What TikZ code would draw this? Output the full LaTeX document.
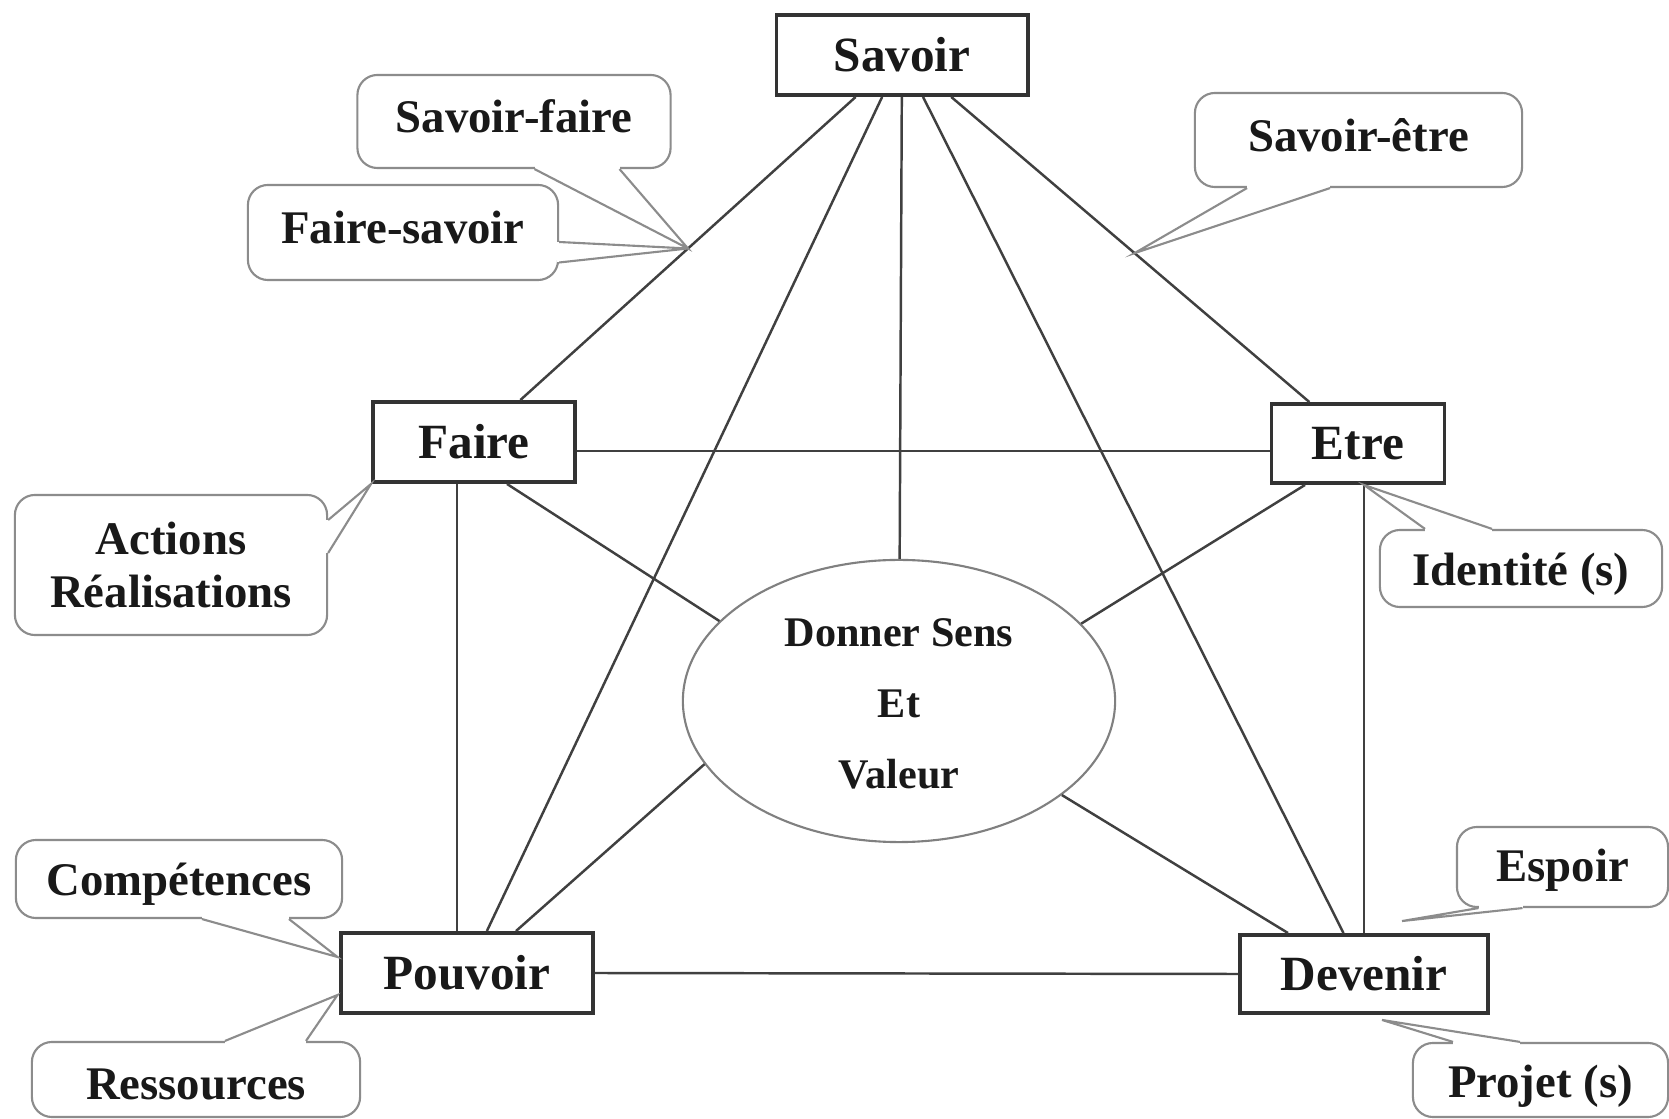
\documentclass[tikz,border=0pt]{standalone}
\usepackage{fontspec}
\setmainfont{Liberation Serif}
\usetikzlibrary{calc,shapes.geometric}
\tikzset{
  pole/.style={draw=black!80, line width=1.1pt, inner sep=0pt, text=black!90,
    font=\fontsize{14}{16}\selectfont\bfseries},
  bulle/.style={draw=black!45, line width=0.6pt, rounded corners=0.2cm, inner sep=0pt,
    align=center, text=black!90, font=\fontsize{13.3}{15.2}\selectfont\bfseries},
  lien/.style={draw=black!75, line width=0.7pt},
  queue/.style={draw=black!45, line width=0.6pt}
}
\newcommand{\queuebulle}[3]{%
  \draw[white, line width=1.5pt] (#1) -- (#2);
  \draw[queue] (#1) -- (#3) -- (#2);
}
\newcommand{\decale}[2]{\raisebox{#1}[\height][\depth]{#2}}
\begin{document}
\begin{tikzpicture}[x=0.01cm, y=-0.01cm]
  \useasboundingbox[fill=white] (0,0) rectangle (1669,1119);
  \node[pole, minimum width=2.51cm, minimum height=0.80cm] (savoir) at (902,55) {Savoir};
  \node[pole, minimum width=2.02cm, minimum height=0.80cm] (faire) at (474,442) {Faire};
  \node[pole, minimum width=1.73cm, minimum height=0.79cm] (etre) at (1358,443.5) {Etre};
  \node[pole, minimum width=2.51cm, minimum height=0.80cm] (pouvoir) at (467,973) {Pouvoir};
  \node[pole, minimum width=2.48cm, minimum height=0.78cm] (devenir) at (1364,974) {Devenir};
  \node[ellipse, draw=black!50, line width=0.6pt, minimum width=4.32cm, minimum height=2.82cm] (sens) at (899,701) {};
  \node[align=center, text=black!90, font=\fontsize{12}{20.2}\selectfont\bfseries] (sensTexte) at (899,704) {Donner Sens\\Et\\Valeur};

  \draw[lien] (savoir) -- (faire);
  \draw[lien] (savoir) -- (pouvoir);
  \draw[lien] (savoir) -- (sens);
  \draw[lien] (savoir) -- (devenir);
  \draw[lien] (savoir) -- (etre);
  \coordinate (fe) at ($(faire.east)+(0,9)$);
  \draw[lien] (fe) -- (fe -| etre.west);
  \draw[lien] (pouvoir.east) -- (devenir.west);
  \coordinate (fp) at ($(faire.south)+(-17,0)$);
  \draw[lien] (fp) -- (fp |- pouvoir.north);
  \draw[lien] (devenir.north |- etre.south) -- (devenir.north);
  \draw[lien] ($(faire.south)+(33,0)$) -- (sens.156);
  \draw[lien] ($(etre.south)+(-53,0)$) -- (sens.23);
  \draw[lien] ($(pouvoir.north)+(49,0)$) -- (sens.198);
  \draw[lien] ($(devenir.north)+(-76,0)$) -- (sens.330);

  \node[bulle, minimum width=3.13cm, minimum height=0.93cm] (sfaire) at (514,121.5) {\decale{0.05cm}{Savoir-faire}};
  \node[bulle, minimum width=3.10cm, minimum height=0.95cm] (fsavoir) at (403,232.5) {\decale{0.05cm}{Faire-savoir}};
  \node[bulle, minimum width=3.27cm, minimum height=0.94cm] (setre) at (1358.5,140) {\decale{0.05cm}{Savoir-être}};
  \node[bulle, minimum width=3.12cm, minimum height=1.40cm] (actions) at (171,565) {Actions\\Réalisations};
  \node[bulle, minimum width=2.82cm, minimum height=0.77cm] (identite) at (1521,568.5) {\decale{-0.06cm}{Identité (s)}};
  \node[bulle, minimum width=3.26cm, minimum height=0.78cm] (compet) at (179,879) {\decale{-0.05cm}{Compétences}};
  \node[bulle, minimum width=3.28cm, minimum height=0.75cm] (ressources) at (196,1079.5) {\decale{-0.05cm}{Ressources}};
  \node[bulle, minimum width=2.11cm, minimum height=0.80cm] (espoir) at (1562.5,867) {\decale{-0.03cm}{Espoir}};
  \node[bulle, minimum width=2.55cm, minimum height=0.74cm] (projet) at (1540.5,1080) {\decale{-0.06cm}{Projet (s)}};

  \coordinate (pointeSF) at ($(savoir)!0.5!(faire)$);
  \coordinate (pointeSE) at ($(savoir)!0.51!(etre)$);
  \queuebulle{$(sfaire.south)+(20.5,0)$}{$(sfaire.south)+(105.5,0)$}{pointeSF}
  \queuebulle{$(fsavoir.east)+(0,9.5)$}{$(fsavoir.east)+(0,30)$}{pointeSF}
  \queuebulle{$(setre.south)+(-111.5,0)$}{$(setre.south)+(-28.5,0)$}{pointeSE}
  \queuebulle{$(actions.east)+(0,-45)$}{$(actions.east)+(0,-12)$}{faire.south west}
  \queuebulle{$(identite.north)+(-96,0)$}{$(identite.north)+(-29,0)$}{devenir.north |- etre.south}
  \queuebulle{$(compet.south)+(23,0)$}{$(compet.south)+(110,0)$}{$(pouvoir.west)+(-2,-16)$}
  \queuebulle{$(ressources.north)+(29,0)$}{$(ressources.north)+(110,0)$}{$(pouvoir.west)+(-2,22)$}
  \queuebulle{$(espoir.south)+(-84,0)$}{$(espoir.south)+(-40,0)$}{$(devenir.north)+(38,-12)$}
  \queuebulle{$(projet.north)+(-87.5,0)$}{$(projet.north)+(-20.5,0)$}{$(devenir.south)+(18,5)$}
\end{tikzpicture}
\end{document}
